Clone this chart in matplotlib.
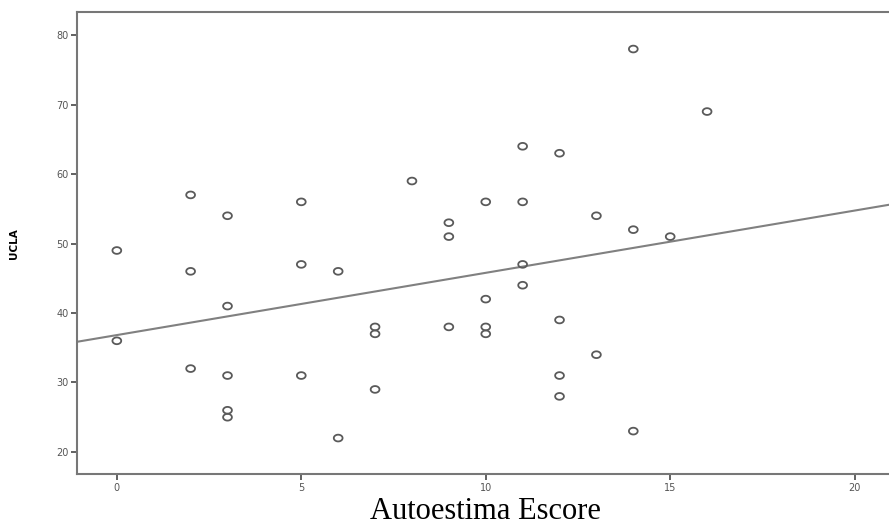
import numpy as np
import matplotlib
matplotlib.use('Agg')
import matplotlib.pyplot as plt
from matplotlib.path import Path

# Autoestima score vs UCLA loneliness score
autoestima = [0, 0, 2, 2, 2, 3, 3, 3, 3, 3, 5, 5, 5, 6, 6, 7, 7, 7, 8, 9, 9, 9,
              10, 10, 10, 10, 11, 11, 11, 11, 12, 12, 12, 12, 13, 13, 14, 14, 14, 15, 16]
ucla = [49, 36, 57, 46, 32, 54, 41, 31, 26, 25, 56, 47, 31, 46, 22, 38, 37, 29, 59, 53, 51, 38,
        56, 42, 38, 37, 64, 56, 47, 44, 63, 39, 31, 28, 54, 34, 78, 52, 23, 51, 69]

xticks = [0, 5, 10, 15, 20]
yticks = [20, 30, 40, 50, 60, 70, 80]

x = np.array(autoestima)
y = np.array(ucla)
slope, intercept = np.polyfit(x, y, 1)

fig = plt.figure(figsize=(8.89, 5.31), dpi=100)
ax = fig.add_axes([0.0866, 0.107, 0.92, 0.870])

# slightly wide open circles like the SPSS output
t = np.linspace(0, 2 * np.pi, 40)
ell = Path(np.column_stack([1.3 * np.cos(t), np.sin(t)]), closed=True)
ax.scatter(x, y, marker=ell, s=40, facecolors='none', edgecolors='#5a5a5a', linewidths=1.3, zorder=3)

xl = np.array([-1.08, 22])
ax.plot(xl, intercept + slope * xl, color='#808080', lw=1.5, zorder=2)

ax.set_xlim(-1.08, 21.09)
ax.set_ylim(16.8, 83.3)
ax.set_xticks(xticks)
ax.set_yticks(yticks)

for s in ['left', 'bottom', 'top']:
    ax.spines[s].set_color('#777777')
    ax.spines[s].set_linewidth(1.5)
ax.spines['right'].set_visible(False)

ax.tick_params(axis='both', direction='out', length=4, width=1.3, color='#555555',
               labelsize=7, labelcolor='#555555', pad=2)

ax.set_ylabel('UCLA', fontsize=7.5, fontweight='bold', labelpad=27)
ax.set_xlabel('Autoestima Escore', fontsize=22, family='Liberation Serif', labelpad=3)

plt.savefig('out.png', dpi=100)
